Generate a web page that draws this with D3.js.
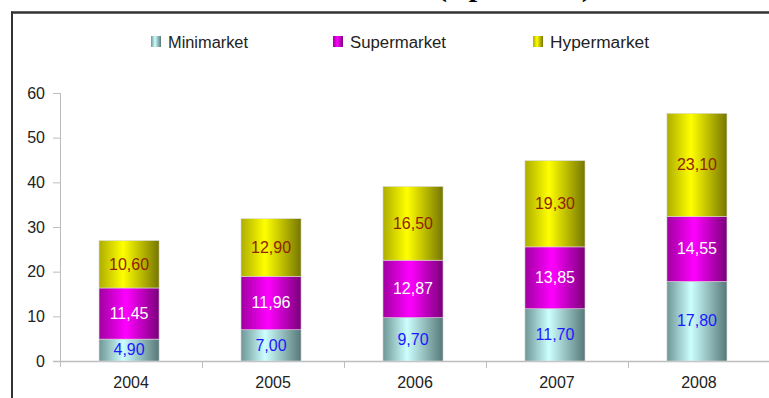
<!DOCTYPE html>
<html>
<head>
<meta charset="utf-8">
<script src="https://cdn.jsdelivr.net/npm/d3@7/dist/d3.min.js"></script>
<style>
  html, body { margin: 0; padding: 0; background: #fff; }
  svg { display: block; }
</style>
</head>
<body>
<script>
const categories = ["2004", "2005", "2006", "2007", "2008"];
const minimarket = [4.90, 7.00, 9.70, 11.70, 17.80];
const supermarket = [11.45, 11.96, 12.87, 13.85, 14.55];
const hypermarket = [10.60, 12.90, 16.50, 19.30, 23.10];
const seriesNames = ["Minimarket", "Supermarket", "Hypermarket"];
const yTicks = [0, 10, 20, 30, 40, 50, 60];
const titleText = "(Rp Triliun)";

const W = 769, H = 398;
const svg = d3.select("body").append("svg").attr("width", W).attr("height", H);
const font = "'Liberation Sans', Arial, sans-serif";

const defs = svg.append("defs");
const grads = [
  { id: "gMini", stops: [["0%", "#6f9696"], ["40%", "#ccffff"], ["100%", "#587878"]], label: "#1a1aff" },
  { id: "gSuper", stops: [["0%", "#a000a0"], ["45%", "#ff00ff"], ["100%", "#7a007a"]], label: "#ffffff" },
  { id: "gHyper", stops: [["0%", "#adad00"], ["40%", "#ffff00"], ["100%", "#767600"]], label: "#8f2400" }
];
grads.forEach(g => {
  const lg = defs.append("linearGradient").attr("id", g.id).attr("x1", "0%").attr("x2", "100%").attr("y1", "0%").attr("y2", "0%");
  g.stops.forEach(s => lg.append("stop").attr("offset", s[0]).attr("stop-color", s[1]));
});

// frame
svg.append("line").attr("x1", 11).attr("x2", W).attr("y1", 12.5).attr("y2", 12.5).attr("stroke", "#333").attr("stroke-width", 2.5);
svg.append("line").attr("x1", 12).attr("x2", 12).attr("y1", 11.5).attr("y2", H).attr("stroke", "#333").attr("stroke-width", 2);

// title (cut off at the top edge, as in the reference)
svg.append("text").attr("x", 437).attr("y", -4)
  .attr("font-family", "'Liberation Serif', 'Times New Roman', serif")
  .attr("font-weight", "bold").attr("font-size", 30).attr("fill", "#000").text(titleText);

// scales
const x = d3.scaleBand().domain(categories).range([60, 770]).paddingInner(0.577).paddingOuter(0.289);
const y = d3.scaleLinear().domain([0, 60]).range([361, 93]);

// stacked data
const rows = categories.map((c, i) => ({ cat: c, Minimarket: minimarket[i], Supermarket: supermarket[i], Hypermarket: hypermarket[i] }));
const stack = d3.stack().keys(seriesNames)(rows);

// y axis
const yAxis = svg.append("g").attr("transform", "translate(60,0)")
  .call(d3.axisLeft(y).tickValues(yTicks).tickSize(7).tickSizeOuter(0).tickPadding(8));
yAxis.select(".domain").remove();
yAxis.selectAll(".tick line").attr("stroke", "#bdbdbd");
yAxis.selectAll(".tick text").attr("font-family", font).attr("font-size", 16).attr("fill", "#222");
svg.append("line").attr("x1", 60.5).attr("x2", 60.5).attr("y1", y(60)).attr("y2", y(0) + 6).attr("stroke", "#bdbdbd");

// x axis
svg.append("line").attr("x1", 53).attr("x2", 770).attr("y1", y(0) + 0.5).attr("y2", y(0) + 0.5).attr("stroke", "#bdbdbd").attr("stroke-width", 1.5);
const gap = x.step() - x.bandwidth();
categories.slice(0, -1).forEach(c => {
  const bx = Math.round(x(c) + x.bandwidth() + gap / 2) + 0.5;
  svg.append("line").attr("x1", bx).attr("x2", bx).attr("y1", y(0)).attr("y2", y(0) + 7).attr("stroke", "#bdbdbd");
});
const xAxis = svg.append("g").attr("transform", `translate(0,${y(0)})`)
  .call(d3.axisBottom(x).tickSize(0).tickPadding(16));
xAxis.select(".domain").remove();
xAxis.selectAll(".tick text").attr("font-family", font).attr("font-size", 16).attr("fill", "#222");

// bars
stack.forEach((layer, li) => {
  const g = svg.append("g");
  g.selectAll("rect").data(layer).join("rect")
    .attr("x", d => x(d.data.cat) - 2)
    .attr("width", x.bandwidth())
    .attr("y", d => y(d[1]))
    .attr("height", d => y(d[0]) - y(d[1]))
    .attr("fill", `url(#${grads[li].id})`)
    .attr("stroke", "#d8d8d8").attr("stroke-width", 0.6);
  g.selectAll("text").data(layer).join("text")
    .attr("x", d => x(d.data.cat) - 2 + x.bandwidth() / 2)
    .attr("y", d => (y(d[0]) + y(d[1])) / 2 + 1)
    .attr("text-anchor", "middle").attr("dominant-baseline", "middle")
    .attr("font-family", font).attr("font-size", 16).attr("fill", grads[li].label)
    .text(d => (d[1] - d[0]).toFixed(2).replace(".", ","));
});

// legend
const legendX = [151, 333, 533];
seriesNames.forEach((n, i) => {
  svg.append("rect").attr("x", legendX[i]).attr("y", 36).attr("width", 10).attr("height", 11)
    .attr("fill", `url(#${grads[i].id})`);
  svg.append("text").attr("x", legendX[i] + 17).attr("y", 47.5)
    .attr("font-family", font).attr("font-size", 16).attr("fill", "#222")
    .attr("textLength", i === 0 ? 80 : (i === 1 ? 96 : 99)).attr("lengthAdjust", "spacingAndGlyphs")
    .text(n);
});
</script>
</body>
</html>
